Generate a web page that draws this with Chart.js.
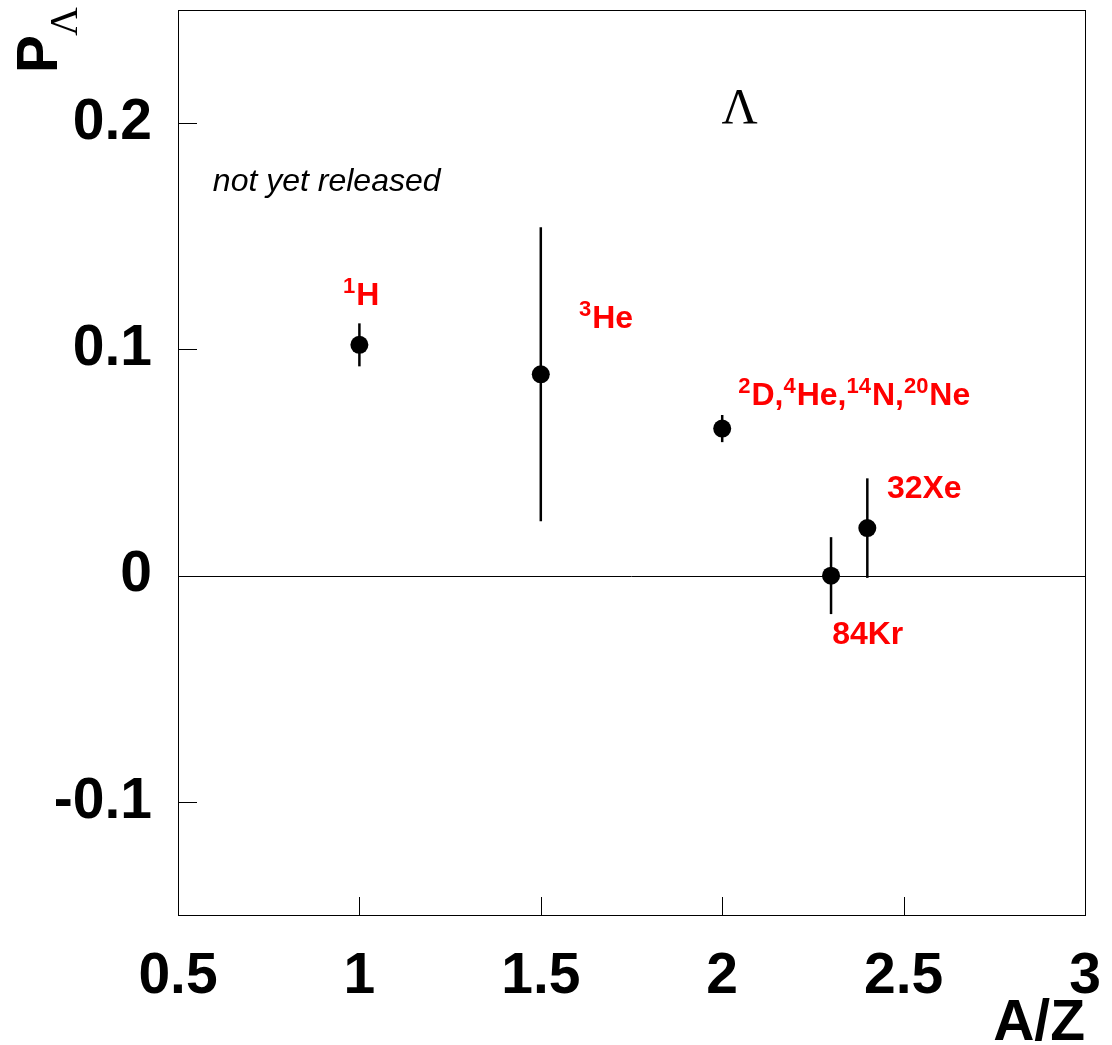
<!DOCTYPE html>
<html>
<head>
<meta charset="utf-8">
<title>P Lambda vs A/Z</title>
<script src="https://cdn.jsdelivr.net/npm/chart.js@4.4.0/dist/chart.umd.min.js"></script>
<style>
  html, body { margin: 0; padding: 0; background: #fff; }
  #wrap { width: 1112px; height: 1045px; position: relative; }
</style>
</head>
<body>
<div id="wrap"><canvas id="chart" width="1112" height="1045"></canvas></div>
<script>
// A/Z of each target and measured polarisation
const AZ = [1.0, 1.5, 2.0, 2.3, 2.4];
const POL = [0.102, 0.089, 0.065, 0.0, 0.021];
const POL_ERR = [0.0095, 0.065, 0.006, 0.017, 0.022];

const X_TICKS = [0.5, 1, 1.5, 2, 2.5, 3];
const Y_TICKS = [-0.1, 0, 0.1, 0.2];

// nucleus labels: segments [text, superscript?], anchored at data coords (left, baseline)
const LABELS = [
    { seg: [['1', true], ['H', false]], x: 0.955, y: 0.1194 },
    { seg: [['3', true], ['He', false]], x: 1.605, y: 0.1093 },
    { seg: [['2', true], ['D,', false], ['4', true], ['He,', false], ['14', true], ['N,', false], ['20', true], ['Ne', false]], x: 2.044, y: 0.0753 },
    { seg: [['32Xe', false]], x: 2.454, y: 0.0344 },
    { seg: [['84Kr', false]], x: 2.303, y: -0.0304 }
];

const SANS = '"Liberation Sans", Arial, Helvetica, sans-serif';
const SERIF = '"Liberation Serif", "Times New Roman", serif';

const decor = {
    id: 'decor',
    beforeDatasetsDraw(chart) {
        const { ctx, chartArea: a, scales: { x, y } } = chart;
        ctx.save();
        // zero line
        ctx.strokeStyle = '#000';
        ctx.lineWidth = 1;
        ctx.beginPath();
        ctx.moveTo(a.left, Math.round(y.getPixelForValue(0)) + 0.5);
        ctx.lineTo(a.right, Math.round(y.getPixelForValue(0)) + 0.5);
        ctx.stroke();
        // error bars
        ctx.lineWidth = 2.5;
        AZ.forEach((v, i) => {
            const px = x.getPixelForValue(v);
            ctx.beginPath();
            ctx.moveTo(px, y.getPixelForValue(POL[i] + POL_ERR[i]));
            ctx.lineTo(px, y.getPixelForValue(POL[i] - POL_ERR[i]));
            ctx.stroke();
        });
        ctx.restore();
    },
    afterDraw(chart) {
        const { ctx, chartArea: a, scales: { x, y } } = chart;
        ctx.save();
        // frame
        ctx.strokeStyle = '#000';
        ctx.lineWidth = 1;
        ctx.strokeRect(Math.round(a.left) + 0.5, Math.round(a.top) + 0.5,
            Math.round(a.right - a.left), Math.round(a.bottom - a.top));
        // inner tick marks
        ctx.beginPath();
        X_TICKS.forEach(v => {
            const px = Math.round(x.getPixelForValue(v)) + 0.5;
            ctx.moveTo(px, a.bottom);
            ctx.lineTo(px, a.bottom - 18);
        });
        Y_TICKS.forEach(v => {
            const py = Math.round(y.getPixelForValue(v)) + 0.5;
            ctx.moveTo(a.left, py);
            ctx.lineTo(a.left + 19, py);
        });
        ctx.stroke();

        // nucleus labels
        ctx.fillStyle = '#ff0000';
        ctx.textBaseline = 'alphabetic';
        ctx.textAlign = 'left';
        LABELS.forEach(l => {
            let px = x.getPixelForValue(l.x);
            const py = y.getPixelForValue(l.y);
            l.seg.forEach(([t, sup]) => {
                ctx.font = sup ? 'bold 22px ' + SANS : 'bold 32px ' + SANS;
                ctx.fillText(t, px, sup ? py - 12 : py);
                px += ctx.measureText(t).width + (sup ? 1 : 0);
            });
        });

        // "not yet released"
        ctx.fillStyle = '#000';
        ctx.font = 'italic 32px ' + SANS;
        ctx.fillText('not yet released', x.getPixelForValue(0.596), y.getPixelForValue(0.170));

        // Lambda marker
        ctx.textAlign = 'center';
        ctx.font = '50px ' + SERIF;
        ctx.fillText('\u039B', x.getPixelForValue(2.048), y.getPixelForValue(0.2));

        // axis titles
        ctx.textAlign = 'right';
        ctx.font = 'bold 57px ' + SANS;
        ctx.fillText('A/Z', a.right, 1040);

        ctx.translate(57, 73);
        ctx.rotate(-Math.PI / 2);
        ctx.textAlign = 'left';
        ctx.font = 'bold 57px ' + SANS;
        ctx.fillText('P', 0, 0);
        ctx.font = '40px ' + SERIF;
        ctx.fillText('\u039B', 37, 20);
        ctx.restore();
    }
};

const fmt = v => String(Math.round(v * 10) / 10);

new Chart(document.getElementById('chart'), {
    type: 'scatter',
    data: {
        datasets: [{
            data: AZ.map((v, i) => ({ x: v, y: POL[i] })),
            pointRadius: 9,
            pointHoverRadius: 9,
            backgroundColor: '#000',
            borderColor: '#000',
            borderWidth: 0
        }]
    },
    options: {
        responsive: false,
        animation: false,
        events: [],
        layout: { padding: { top: 10, right: 27, left: 0, bottom: 0 } },
        plugins: { legend: { display: false }, tooltip: { enabled: false } },
        scales: {
            x: {
                type: 'linear',
                min: 0.5,
                max: 3,
                afterBuildTicks: s => { s.ticks = X_TICKS.map(v => ({ value: v })); },
                afterFit: s => { s.height = 130; s.paddingLeft = 0; s.paddingRight = 0; },
                grid: { display: false, drawTicks: false },
                border: { display: false },
                ticks: {
                    color: '#000',
                    padding: 28,
                    maxRotation: 0,
                    autoSkip: false,
                    font: { family: SANS, size: 57, weight: 'bold' },
                    callback: fmt
                }
            },
            y: {
                type: 'linear',
                min: -0.15,
                max: 0.25,
                afterBuildTicks: s => { s.ticks = Y_TICKS.map(v => ({ value: v })); },
                afterFit: s => { s.width = 178; s.paddingTop = 0; s.paddingBottom = 0; },
                grid: { display: false, drawTicks: false },
                border: { display: false },
                ticks: {
                    color: '#000',
                    padding: 26,
                    autoSkip: false,
                    font: { family: SANS, size: 57, weight: 'bold' },
                    callback: fmt
                }
            }
        }
    },
    plugins: [decor]
});
</script>
</body>
</html>
